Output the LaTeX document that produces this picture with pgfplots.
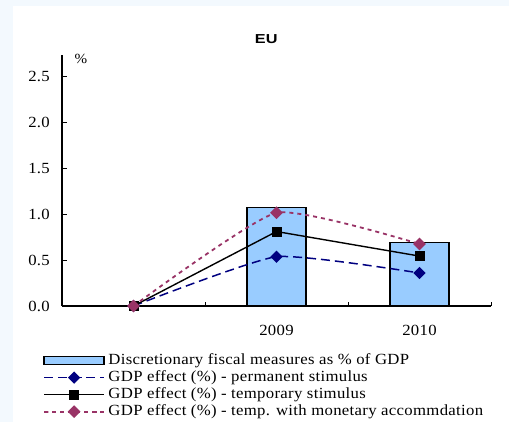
\documentclass[border=0pt]{standalone}
\usepackage{fontspec}
\setmainfont{Liberation Serif}
\newfontfamily\serifls[LetterSpace=2,FakeStretch=1.08]{Liberation Serif}
\newfontfamily\arialfont[FakeStretch=1.25]{Liberation Sans}
\usepackage{pgfplots}
\pgfplotsset{compat=1.18}
\definecolor{barblue}{HTML}{99CCFF}
\definecolor{navyline}{HTML}{000080}
\definecolor{plum}{HTML}{993366}
\definecolor{bgblue}{RGB}{243,249,254}
\pgfplotsset{
  lineleg/.style={legend image code/.code={\draw[##1, mark repeat=2, mark phase=2] plot coordinates {(0pt,0pt) (30pt,0pt) (60pt,0pt)};}},
  barleg/.style={legend image code/.code={\draw[fill=barblue,draw=black,line width=1.4pt] (0pt,-4pt) rectangle (60pt,4pt);}},
}

\begin{document}
\begin{tikzpicture}
\useasboundingbox (0,0) rectangle (509pt,-422pt);
\fill[bgblue] (0,0) rectangle (509pt,-422pt);
\fill[white] (13pt,-6pt) rectangle (509pt,-422pt);
\begin{axis}[
  at={(62pt,-306pt)}, anchor=south west,
  scale only axis, width=429pt, height=251pt,
  xmin=-0.5, xmax=2.5, ymin=0, ymax=2.73,
  axis lines=left, axis line style={-, line width=1.2pt},
  tick align=inside, major tick length=4.5pt,
  tick style={black, line width=1pt},
  ytick={0,0.5,1,1.5,2,2.5},
  yticklabels={0.0,0.5,1.0,1.5,2.0,2.5},
  yticklabel style={anchor=east, inner sep=0pt, xshift=-12pt},
  xtick={0.5,1.5,2.5}, xticklabels={},
  extra x ticks={1,2}, extra x tick labels={2009,2010},
  extra x tick style={major tick length=0pt, xticklabel style={anchor=north, inner sep=0pt, yshift=-19pt}},
  tick label style={font=\serifls\fontsize{15.5}{15.5}\selectfont},
  every axis title shift=0pt,
  title={EU}, title style={at={(0.476,1.064)}, anchor=center, inner sep=0pt, font=\arialfont\bfseries\fontsize{13}{13}\selectfont},
  legend style={at={(-0.0513,-0.175)}, anchor=north west, draw=none, fill=none,
    font=\serifls\fontsize{15.5}{15.5}\selectfont, row sep=0pt, column sep=3pt,
    nodes={inner sep=0.5pt, text height=11.5pt, text depth=4.5pt}},
  legend cell align=left,
  clip=false,
]
\addplot[ybar, bar width=59pt, fill=barblue, draw=black, line width=1.5pt, barleg]
  coordinates {(1,1.073) (2,0.688)};
\addlegendentry{Discretionary fiscal measures as \% of GDP}
\addplot[navyline, line width=1.5pt, dash pattern=on 9pt off 5pt, smooth, tension=0.3,
  mark=square*, mark size=3.6pt, mark options={rotate=45, solid, fill=navyline, draw=navyline}, lineleg]
  coordinates {(0,0) (1,0.536) (2,0.359)};
\addlegendentry{GDP effect (\%) - permanent stimulus}
\addplot[black, line width=1.4pt,
  mark=square*, mark size=4.3pt, mark options={solid, fill=black}, lineleg]
  coordinates {(0,0) (1,0.81) (2,0.543)};
\addlegendentry{GDP effect (\%) - temporary stimulus}
\addplot[plum, line width=1.8pt, dash pattern=on 4pt off 4pt, smooth, tension=0.3,
  mark=square*, mark size=3.6pt, mark options={rotate=45, solid, fill=plum, draw=plum}, lineleg]
  coordinates {(0,0) (1,1.014) (2,0.674)};
\addlegendentry{GDP effect (\%) - temp. with monetary accommdation}
\node[font=\serifls\fontsize{14}{14}\selectfont, inner sep=0pt] at (axis description cs:0.044,0.984) {\%};
\end{axis}
\end{tikzpicture}
\end{document}
